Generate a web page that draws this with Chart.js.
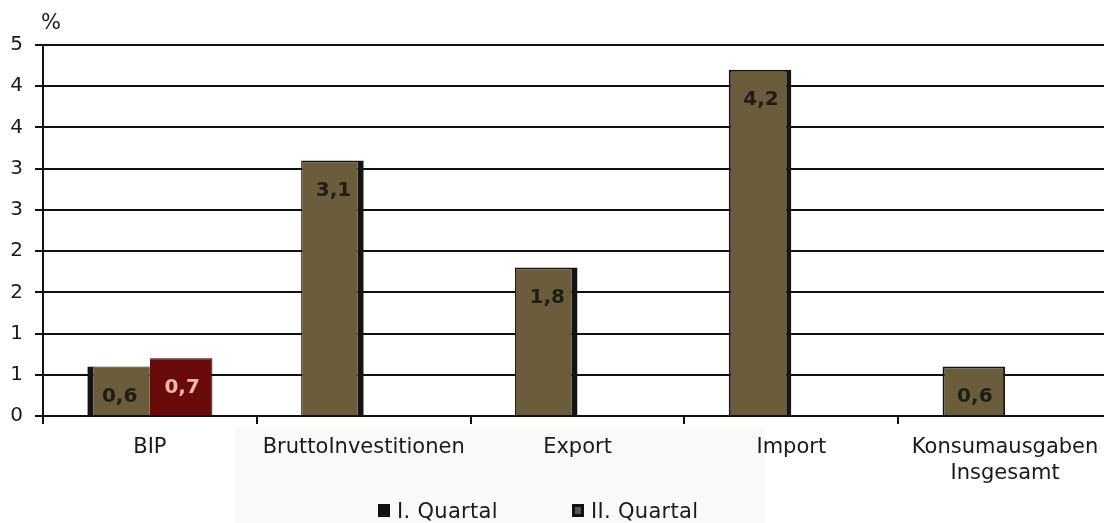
<!DOCTYPE html>
<html lang="de">
<head>
<meta charset="utf-8">
<title>Wachstum BIP und Komponenten</title>
<script src="https://cdn.jsdelivr.net/npm/chart.js@4/dist/chart.umd.min.js"></script>
<style>
  html, body { margin: 0; padding: 0; background: #ffffff; overflow: hidden; }
  #wrap { position: relative; width: 1112px; height: 523px; font-family: "DejaVu Sans", Verdana, sans-serif; color: #1a1a1a; }
  #shade { position: absolute; left: 235px; top: 428px; width: 530px; height: 95px; background: #f9f9f8; }
  #chart { position: absolute; left: 0; top: 0; }
  #unit { position: absolute; left: 41px; top: 10px; font-size: 21px; }
  .leg { position: absolute; top: 499px; font-size: 21px; line-height: 24px; white-space: nowrap; letter-spacing: 0.3px; }
  .leg i { display: inline-block; width: 12px; height: 13px; margin-right: 7px; vertical-align: 1px; box-sizing: border-box; }
</style>
</head>
<body>
<div id="wrap">
  <div id="shade"></div>
  <canvas id="chart" width="1112" height="523"></canvas>
  <div id="unit">%</div>
  <div class="leg" style="left:378px"><i style="background:#111"></i>I. Quartal</div>
  <div class="leg" style="left:572px"><i style="background:#555;border:3px solid #111"></i>II. Quartal</div>
</div>
<script>
// Kategorien und Werte (Veränderung in %)
const categories = ['BIP', 'BruttoInvestitionen', 'Export', 'Import', ['Konsumausgaben', 'Insgesamt']];
const quartal1 = [0.6, 3.1, 1.8, 4.2, 0.6];
const quartal2 = [0.7, null, null, null, null];
const yTicks = { min: 0, max: 4.5, step: 0.5 };

const OLIVE = '#6b5d3b';
const DARK_RED = '#6a0b0b';
const EDGE = '#141414';

// dunkle Schattenkante je Balken (erste Reihe)
const edgeQ1 = [
  { left: 6, right: 0, top: 1, bottom: 0 },
  { left: 1, right: 6, top: 2, bottom: 0 },
  { left: 1, right: 6, top: 2, bottom: 0 },
  { left: 2, right: 5, top: 2, bottom: 0 },
  { left: 2, right: 2, top: 2, bottom: 0 }
];

const fmt = v => v.toFixed(1).replace('.', ',');

const valueLabels = {
  id: 'valueLabels',
  afterDatasetsDraw(chart) {
    const ctx = chart.ctx;
    ctx.save();
    ctx.font = '600 20px "DejaVu Sans", Verdana, sans-serif';
    ctx.textAlign = 'center';
    ctx.textBaseline = 'middle';
    chart.data.datasets.forEach((ds, di) => {
      const meta = chart.getDatasetMeta(di);
      meta.data.forEach((bar, i) => {
        const v = ds.data[i];
        if (v === null || v === undefined) return;
        ctx.fillStyle = di === 1 ? '#f2b7a6' : '#1e1d16';
        ctx.fillText(fmt(v), bar.x + 1, bar.y + 30);
      });
    });
    ctx.restore();
  }
};

new Chart(document.getElementById('chart'), {
  type: 'bar',
  data: {
    labels: categories,
    datasets: [
      {
        label: 'I. Quartal',
        data: quartal1,
        backgroundColor: OLIVE,
        borderColor: EDGE,
        borderWidth: c => edgeQ1[c.dataIndex],
        borderSkipped: false
      },
      {
        label: 'II. Quartal',
        data: quartal2,
        backgroundColor: DARK_RED,
        borderColor: '#2a0505',
        borderWidth: { left: 0, right: 1, top: 1, bottom: 0 },
        borderSkipped: false
      }
    ]
  },
  options: {
    responsive: false,
    animation: false,
    layout: { padding: { top: 45, left: 0, right: 0, bottom: 0 } },
    categoryPercentage: 0.585,
    barPercentage: 1.0,
    plugins: {
      legend: { display: false },
      tooltip: { enabled: false }
    },
    scales: {
      x: {
        offset: true,
        grid: {
          display: true, offset: true, drawOnChartArea: false, drawTicks: true,
          tickLength: 8, color: '#111', lineWidth: 2
        },
        border: { display: true, color: '#111', width: 2 },
        ticks: {
          color: '#1a1a1a', padding: 10, maxRotation: 0, autoSkip: false,
          font: { family: '"DejaVu Sans", Verdana, sans-serif', size: 21, lineHeight: 1.25 }
        },
        afterFit: s => { s.height = 107; }
      },
      y: {
        min: yTicks.min, max: yTicks.max,
        grid: { color: '#111', lineWidth: 2, tickLength: 8, drawTicks: true },
        border: { display: true, color: '#111', width: 2 },
        ticks: {
          stepSize: yTicks.step, padding: 12, color: '#1a1a1a',
          font: { family: '"DejaVu Sans", Verdana, sans-serif', size: 20 },
          callback: v => String(Math.round(v))
        },
        afterFit: s => { s.width = 43; }
      }
    }
  },
  plugins: [valueLabels]
});
</script>
</body>
</html>
